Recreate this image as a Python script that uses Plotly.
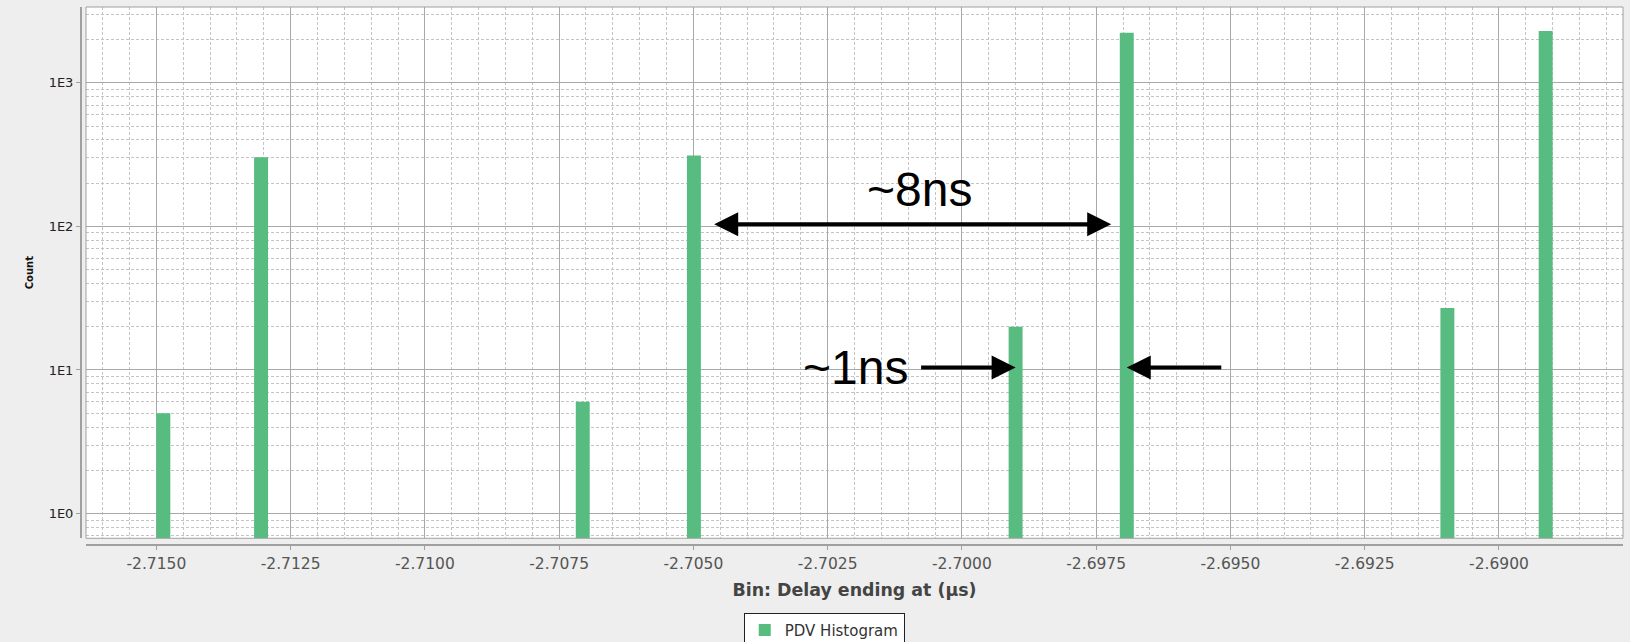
import plotly.graph_objects as go

# ---- data ----
bin_x = [-2.71487, -2.71305, -2.70706, -2.70499, -2.69900, -2.69693, -2.69096, -2.68913]
counts = [5, 303, 6, 312, 20, 2234, 27, 2293]
bin_width = 0.00026

x_tickvals = [-2.7150, -2.7125, -2.7100, -2.7075, -2.7050, -2.7025, -2.7000,
              -2.6975, -2.6950, -2.6925, -2.6900]
x_ticktext = ["-2.7150", "-2.7125", "-2.7100", "-2.7075", "-2.7050", "-2.7025",
              "-2.7000", "-2.6975", "-2.6950", "-2.6925", "-2.6900"]
y_tickvals = [1, 10, 100, 1000]
y_ticktext = ["1E0", "1E1", "1E2", "1E3"]
x_range = [-2.71631, -2.68769]
y_range_log = [-0.172, 3.528]

bar_color = "rgb(88,188,128)"
grid_major = "#a8a8a8"
grid_minor = "#c4c4c4"

fig = go.Figure()
fig.add_trace(go.Bar(
    x=bin_x, y=counts, width=bin_width,
    marker=dict(color=bar_color, line=dict(width=0)),
    name="PDV Histogram", showlegend=True,
))

font_fam = "DejaVu Sans"

fig.update_layout(
    width=1630, height=642,
    paper_bgcolor="#eeeeee", plot_bgcolor="white",
    margin=dict(l=81, r=7, t=7, b=97, autoexpand=False),
    showlegend=True,
    legend=dict(
        x=0.482, y=-0.1258, xanchor="center", yanchor="top",
        bgcolor="white", bordercolor="#222222", borderwidth=1,
        font=dict(family=font_fam, size=15, color="#333333"),
        itemwidth=30,
    ),
    xaxis=dict(
        type="linear", range=x_range, domain=[0.00324, 1],
        anchor="free", position=0,
        tickmode="array", tickvals=x_tickvals, ticktext=x_ticktext,
        tickfont=dict(family=font_fam, size=15.5, color="#555555"),
        ticks="outside", ticklen=4, tickcolor="#a0a0a0",
        showline=True, linecolor="#a0a0a0", linewidth=2,
        showgrid=True, gridcolor=grid_major, gridwidth=1,
        zeroline=False,
        minor=dict(dtick=0.0005, tick0=-2.7150, showgrid=True,
                   gridcolor=grid_minor, griddash="3px,2px", gridwidth=1),
        title=dict(text="Bin: Delay ending at (µs)", standoff=11,
                   font=dict(family=font_fam, size=17.4, color="#444444",
                             weight="bold")),
    ),
    yaxis=dict(
        type="log", range=y_range_log, domain=[0.0125, 1],
        anchor="free", position=0,
        tickmode="array", tickvals=y_tickvals, ticktext=y_ticktext,
        tickfont=dict(family=font_fam, size=13, color="#222222"),
        ticks="outside", ticklen=4, tickcolor="#a0a0a0",
        showline=True, linecolor="#a0a0a0", linewidth=2,
        showgrid=True, gridcolor=grid_major, gridwidth=1,
        zeroline=False,
        minor=dict(dtick="D1", showgrid=True,
                   gridcolor=grid_minor, griddash="3px,2px", gridwidth=1),
        title=dict(text="Count", standoff=12,
                   font=dict(family=font_fam, size=10, color="#111111",
                             weight="bold")),
    ),
)

# plot-area border
fig.add_shape(type="rect", xref="x domain", yref="y domain",
              x0=0, x1=1, y0=0, y1=1, line=dict(color="#a0a0a0", width=1),
              layer="above")

# ---- annotations (arrows anchored on the bars) ----
arrow_col = "black"
# ~8ns double arrow between bar 4 and bar 6 at Count = 100
fig.add_annotation(
    x=bin_x[5] - 0.00029, y=2.015, xref="x", yref="y",
    ax=bin_x[3] + 0.00035, ay=2.015, axref="x", ayref="y",
    showarrow=True, arrowhead=2, arrowside="end+start",
    arrowwidth=4, arrowsize=1.2, arrowcolor=arrow_col, text="",
)
fig.add_annotation(
    x=(bin_x[3] + bin_x[5]) / 2, y=2.015, xref="x", yref="y",
    xshift=9, yshift=35, showarrow=False, text="~8ns",
    font=dict(family="Liberation Sans", size=48, color="black"),
)
# ~1ns arrows pointing at bar 5 and bar 6 at Count ~ 10
fig.add_annotation(
    x=bin_x[4], y=1.017, xref="x", yref="y",
    ax=-96, ay=0, showarrow=True, arrowhead=2,
    arrowwidth=4, arrowsize=1.2, arrowcolor=arrow_col, text="",
)
fig.add_annotation(
    x=bin_x[5], y=1.017, xref="x", yref="y",
    ax=96, ay=0, showarrow=True, arrowhead=2,
    arrowwidth=4, arrowsize=1.2, arrowcolor=arrow_col, text="",
)
fig.add_annotation(
    x=bin_x[4], y=1.017, xref="x", yref="y",
    xshift=-106, xanchor="right", yanchor="middle",
    showarrow=False, text="~1ns",
    font=dict(family="Liberation Sans", size=48, color="black"),
)

fig.write_html("out.html")
